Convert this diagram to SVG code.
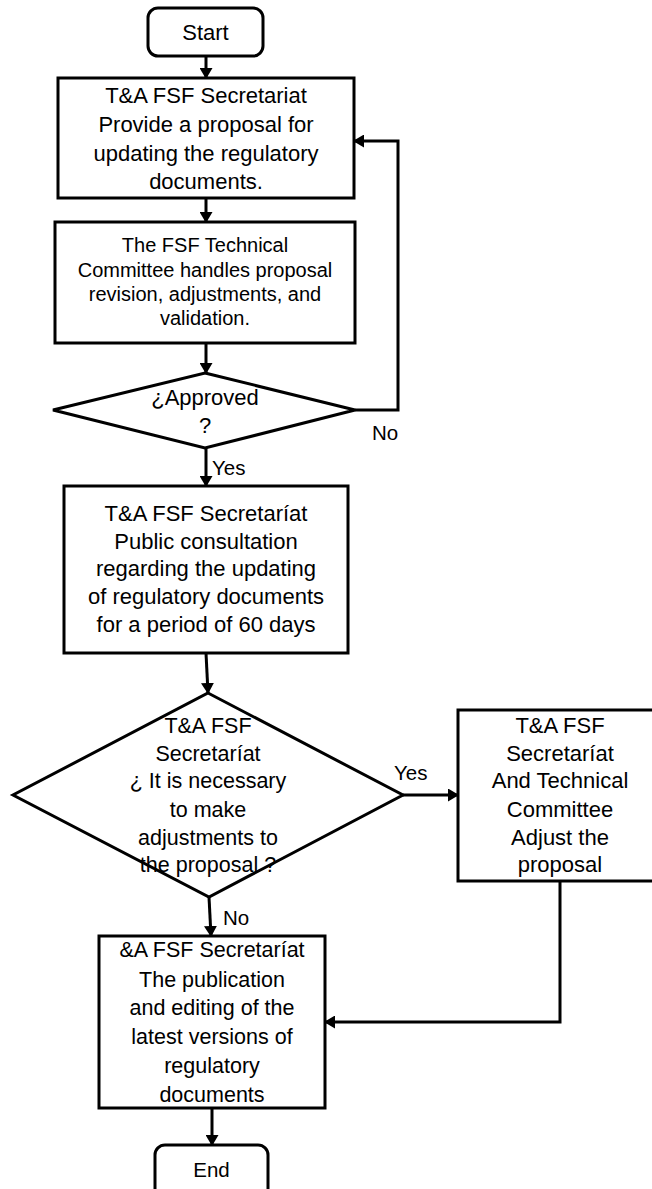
<svg xmlns="http://www.w3.org/2000/svg" width="652" height="1189" viewBox="0 0 652 1189">
<defs>
<marker id="arr" markerUnits="userSpaceOnUse" markerWidth="12" markerHeight="13" refX="10" refY="6.5" orient="auto">
<path d="M0,0 L11,6.5 L0,13 z" fill="#000"/>
</marker>
<style>
.box{fill:#fff;stroke:#000;stroke-width:3}
.t{font-family:"Liberation Sans",Arial,sans-serif;fill:#000;text-anchor:middle}
.lbl{font-family:"Liberation Sans",Arial,sans-serif;fill:#000;font-size:20.5px}
.c{fill:none;stroke:#000;stroke-width:3}
</style>
</defs>
<rect width="652" height="1189" fill="#fff"/>

<g id="connectors">
<path class="c" d="M206,57 V78" marker-end="url(#arr)"/>
<path class="c" d="M206,198 V222" marker-end="url(#arr)"/>
<path class="c" d="M206,343 V373" marker-end="url(#arr)"/>
<path class="c" d="M355,410 H398 V141 H354" marker-end="url(#arr)"/>
<path class="c" d="M206,448 V486" marker-end="url(#arr)"/>
<path class="c" d="M206,653 L208,693" marker-end="url(#arr)"/>
<path class="c" d="M403,795 H458" marker-end="url(#arr)"/>
<path class="c" d="M209,897 L211,936" marker-end="url(#arr)"/>
<path class="c" d="M560,881 V1022 H325" marker-end="url(#arr)"/>
<path class="c" d="M212,1108 V1145" marker-end="url(#arr)"/>
<text class="lbl" x="372" y="440">No</text>
<text class="lbl" x="212" y="475">Yes</text>
<text class="lbl" x="394" y="780">Yes</text>
<text class="lbl" x="223" y="925">No</text>
</g>

<g id="start">
<rect class="box" x="148" y="8" width="115" height="48" rx="10"/>
<text class="t" x="205.5" y="40" font-size="22">Start</text>
</g>

<g id="box1">
<rect class="box" x="58" y="78" width="296" height="120"/>
<text class="t" font-size="22"><tspan x="206" y="103">T&amp;A FSF Secretariat</tspan><tspan x="206" y="132">Provide a proposal for</tspan><tspan x="206" y="161">updating the regulatory</tspan><tspan x="206" y="189">documents.</tspan></text>
</g>

<g id="box2">
<rect class="box" x="55" y="222" width="300" height="121"/>
<text class="t" font-size="20"><tspan x="205" y="252">The FSF Technical</tspan><tspan x="205" y="276.5">Committee handles proposal</tspan><tspan x="205" y="300.5">revision, adjustments, and</tspan><tspan x="205" y="325">validation.</tspan></text>
</g>

<g id="decision1">
<polygon class="box" points="205,373 355,410 205,448 53,410"/>
<text class="t" font-size="22"><tspan x="205" y="405">¿Approved</tspan><tspan x="205" y="433">?</tspan></text>
</g>

<g id="box3">
<rect class="box" x="64" y="486" width="284" height="167"/>
<text class="t" font-size="22"><tspan x="206" y="521">T&amp;A FSF Secretaríat</tspan><tspan x="206" y="548.5">Public consultation</tspan><tspan x="206" y="576">regarding the updating</tspan><tspan x="206" y="603.5">of regulatory documents</tspan><tspan x="206" y="631.5">for a period of 60 days</tspan></text>
</g>

<g id="decision2">
<polygon class="box" points="208,693 403,795 209,897 13,795"/>
<text class="t" font-size="21.5"><tspan x="208" y="733">T&amp;A FSF</tspan><tspan x="208" y="760.5">Secretaríat</tspan><tspan x="208" y="788">¿ It is necessary</tspan><tspan x="208" y="816.5">to make</tspan><tspan x="208" y="844.5">adjustments to</tspan><tspan x="208" y="872">the proposal ?</tspan></text>
</g>

<g id="box4">
<rect class="box" x="458" y="710" width="204" height="171"/>
<text class="t" font-size="22"><tspan x="560" y="733">T&amp;A FSF</tspan><tspan x="560" y="760.5">Secretaríat</tspan><tspan x="560" y="788">And Technical</tspan><tspan x="560" y="816.5">Committee</tspan><tspan x="560" y="844.5">Adjust the</tspan><tspan x="560" y="872">proposal</tspan></text>
</g>

<g id="box5">
<rect class="box" x="99" y="936" width="226" height="172"/>
<text class="t" font-size="21.5"><tspan x="212" y="957">&amp;A FSF Secretaríat</tspan><tspan x="212" y="986.5">The publication</tspan><tspan x="212" y="1015">and editing of the</tspan><tspan x="212" y="1044">latest versions of</tspan><tspan x="212" y="1073">regulatory</tspan><tspan x="212" y="1102">documents</tspan></text>
</g>

<g id="end">
<rect class="box" x="155" y="1145" width="113" height="60" rx="10"/>
<text class="t" x="211.5" y="1177" font-size="20.5">End</text>
</g>
</svg>
